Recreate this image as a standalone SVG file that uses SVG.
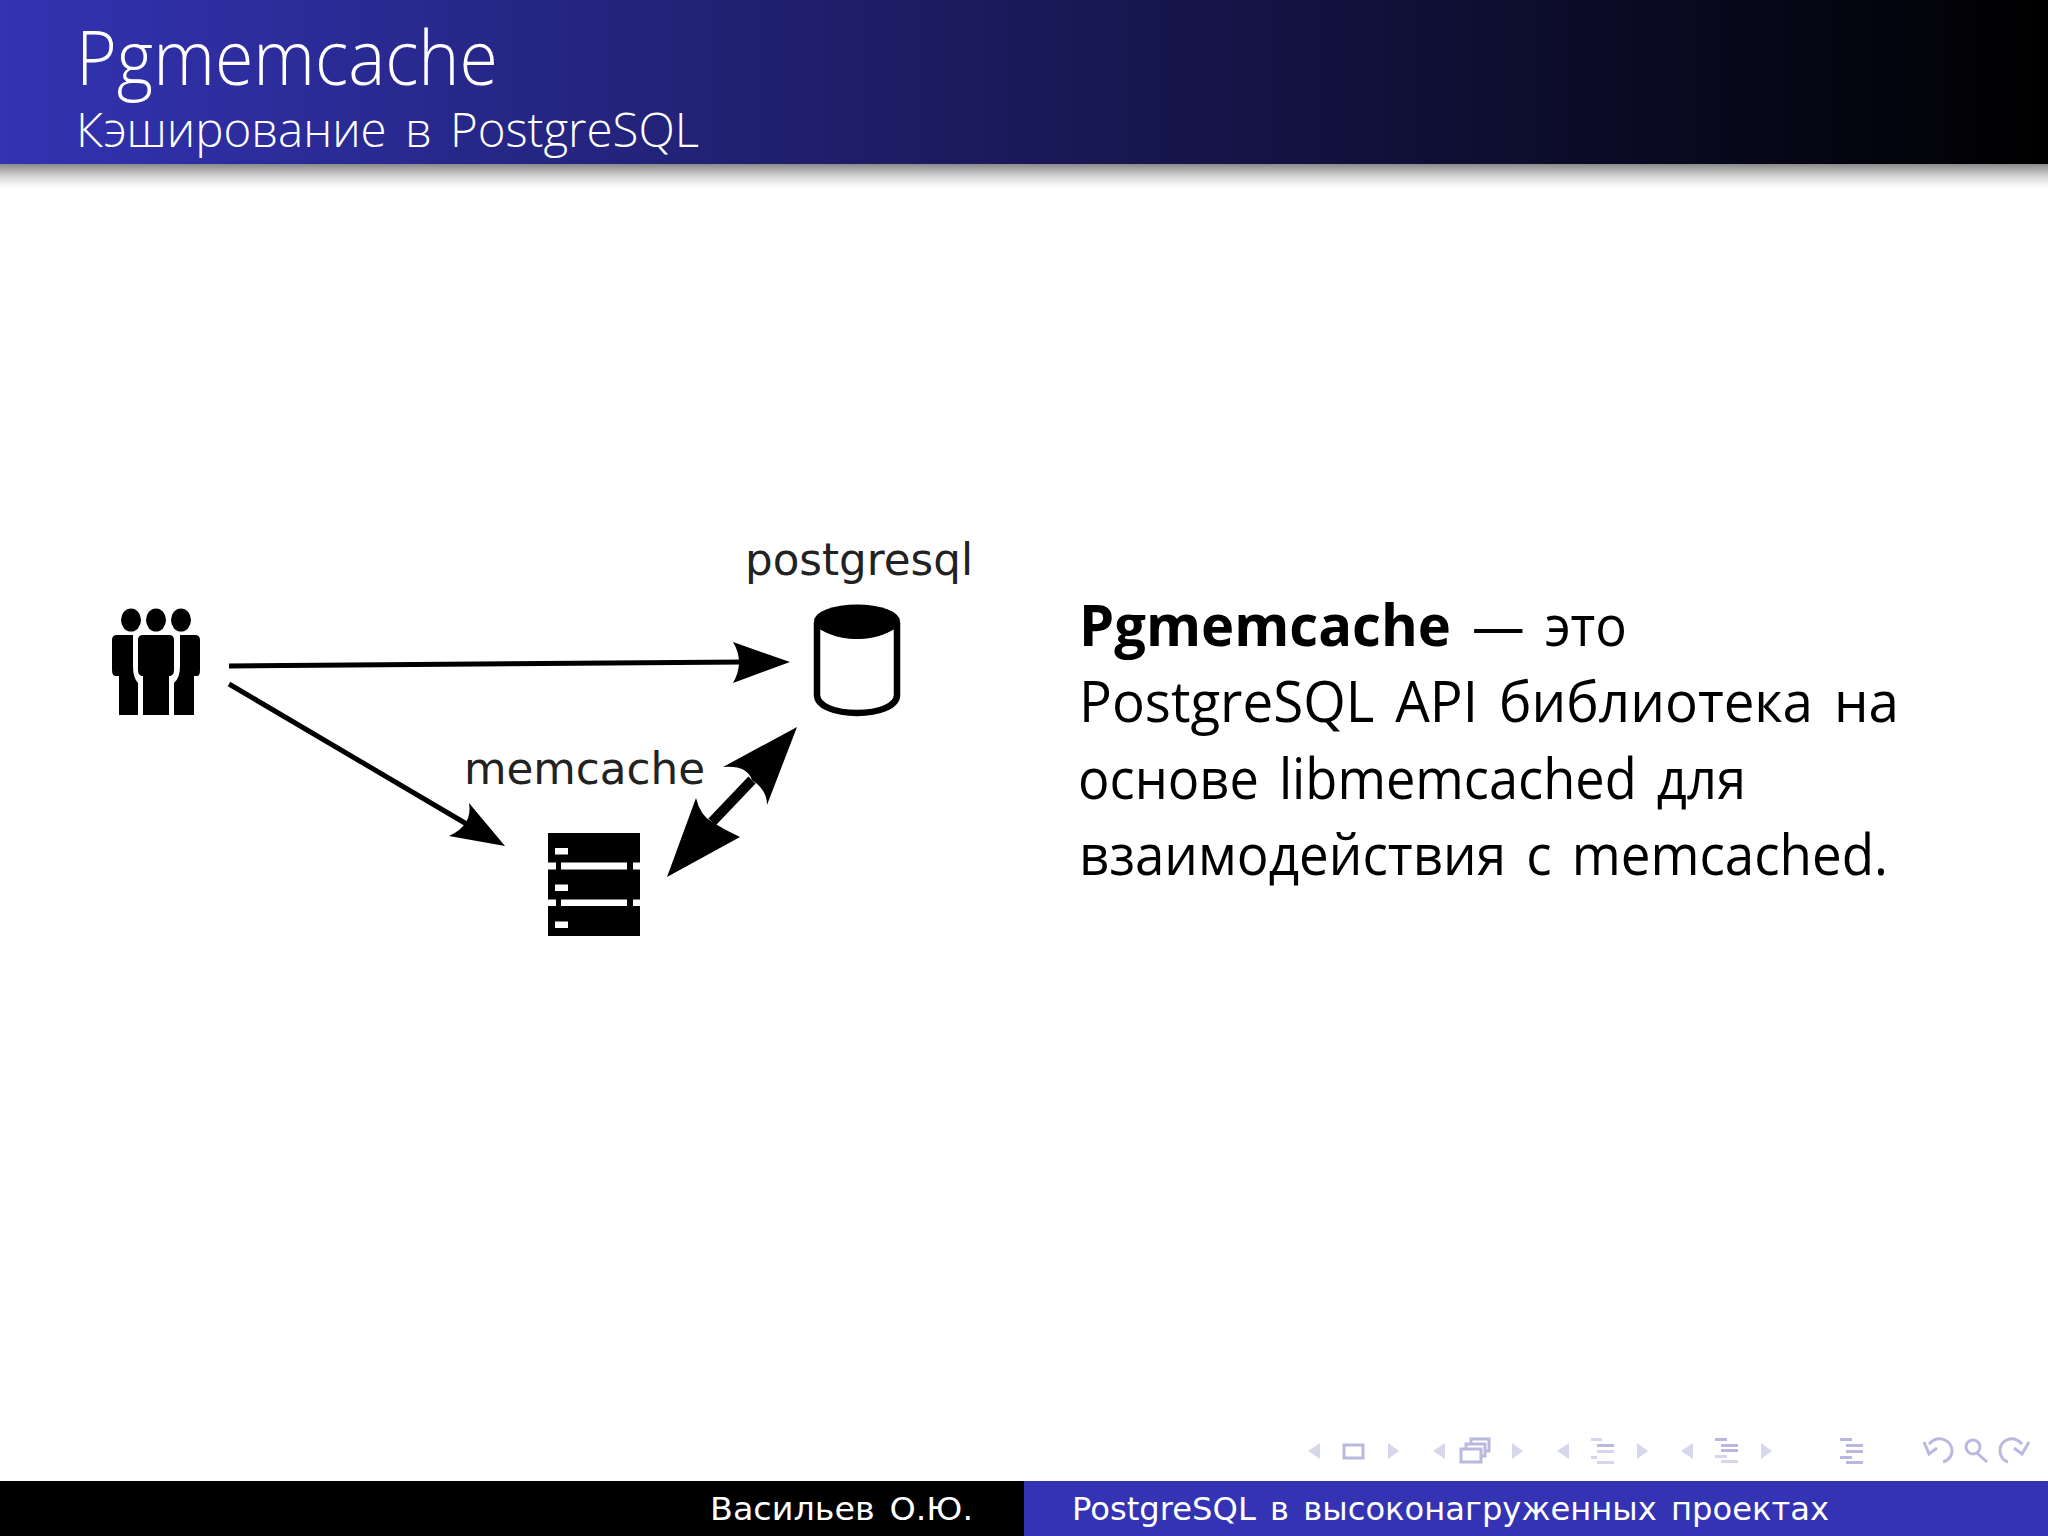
<svg xmlns="http://www.w3.org/2000/svg" width="2048" height="1536" viewBox="0 0 2048 1536">
<style>
.sans{font-family:"Open Sans","Noto Sans","DejaVu Sans",sans-serif}
.lab{font-family:"DejaVu Sans",sans-serif;font-size:45px;fill:#222}
.body{font-size:57px;fill:#000;font-weight:400;word-spacing:7px}
.foot{font-size:32px;fill:#fff;font-family:"DejaVu Sans",sans-serif;word-spacing:4px}
.ln{stroke:#000;fill:none}
.hi{fill:#d6d6ec}.mid{fill:#b9b9e0}
.ol{fill:none;stroke:#b9b9e0;stroke-width:3}
</style>
<defs>
<linearGradient id="hd"><stop offset="0" stop-color="#3333b3"/><stop offset="1" stop-color="#000"/></linearGradient>
<linearGradient id="sh" x2="0" y2="1"><stop offset="0" stop-color="#8a8a8a"/><stop offset=".5" stop-color="#d4d4d4"/><stop offset="1" stop-color="#fff"/></linearGradient>
</defs>
<rect width="2048" height="1536" fill="#fff"/>
<g id="header">
<rect y="164" width="2048" height="24" fill="url(#sh)"/>
<rect width="2048" height="164" fill="url(#hd)"/>
<text class="sans" x="76" y="85" font-size="76" font-weight="300" fill="#fff" textLength="422" lengthAdjust="spacingAndGlyphs">Pgmemcache</text>
<text class="sans" x="76" y="147" font-size="48" font-weight="300" fill="#fff" word-spacing="6" textLength="623" lengthAdjust="spacingAndGlyphs">Кэширование в PostgreSQL</text>
</g>
<g id="users">
<ellipse cx="131" cy="620" rx="10" ry="11.500"/><ellipse cx="156" cy="620" rx="10" ry="11.500"/><ellipse cx="181" cy="620" rx="10" ry="11.500"/>
<path d="M117 635H133V666Q133 678 138 683V715H119V676H116Q112 676 112 670V640Q112 635 117 635Z"/>
<path d="M195 635H180V666Q180 678 174 683V715H194V676H197Q200 676 200 670V640Q200 635 195 635Z"/>
<path d="M143 635H169Q174 635 174 640V670Q174 676 169 676V715H143V676Q138 676 138 670V640Q138 635 143 635Z"/>
</g>
<g id="postgresql">
<text class="lab" x="745" y="575" textLength="228" lengthAdjust="spacingAndGlyphs">postgresql</text>
<path d="M817 622V695C817 706 835 713 857 713C879 713 897 706 897 695V622" fill="#fff" stroke="#000" stroke-width="6.500"/>
<ellipse cx="857" cy="621" rx="43" ry="16.500"/>
<path d="M817 622C820 632 836 639 857 639C878 639 894 632 897 622Z"/>
</g>
<g id="memcache">
<text class="lab" x="464" y="784" textLength="241" lengthAdjust="spacingAndGlyphs">memcache</text>
<path d="M556 860h5v12h-5zM627 860h6v12h-6zM556 897h5v12h-5zM627 897h6v12h-6z"/>
<rect x="548" y="833" width="92" height="29.500"/><rect x="548" y="869.500" width="92" height="30"/><rect x="548" y="906" width="92" height="30"/>
<path fill="#fff" d="M555 848h13v6.500h-13zM555 884.500h13v6.500h-13zM555 921.500h13v6.500h-13z"/>
</g>
<g id="connectors">
<path class="ln" stroke-width="5" d="M229 666L745 662"/>
<path d="M790 662L733 642Q745 662 733 683Z"/>
<path class="ln" stroke-width="5" d="M229 684L470 826"/>
<path d="M505 846L469 803Q473 825 449 836Z"/>
<path class="ln" stroke-width="10" d="M712 822L752 780"/>
<path d="M797 727L723 767Q747 765 752 780Q767 790 767 805Z"/>
<path d="M667 877L696 798Q700 815 712 822Q725 830 740 837Z"/>
</g>
<g id="body">
<text class="sans body" x="1079" y="646" font-weight="700" style="font-weight:700" textLength="372" lengthAdjust="spacingAndGlyphs">Pgmemcache</text>
<text class="sans body" x="1472" y="646" textLength="155" lengthAdjust="spacingAndGlyphs">— это</text>
<text class="sans body" x="1079" y="722" textLength="820" lengthAdjust="spacingAndGlyphs">PostgreSQL API библиотека на</text>
<text class="sans body" x="1078" y="799" textLength="668" lengthAdjust="spacingAndGlyphs">основе libmemcached для</text>
<text class="sans body" x="1079" y="875" textLength="809" lengthAdjust="spacingAndGlyphs">взаимодействия с memcached.</text>
</g>
<g id="footer">
<rect y="1481" width="1024" height="55" fill="#000"/><rect x="1024" y="1481" width="1024" height="55" fill="#3333b3"/>
<text class="foot" x="710" y="1520" textLength="263" lengthAdjust="spacingAndGlyphs">Васильев О.Ю.</text>
<text class="foot" x="1072" y="1520" textLength="757" lengthAdjust="spacingAndGlyphs">PostgreSQL в высоконагруженных проектах</text>
</g>
<g id="nav">
<path class="hi" d="M1320 1443v16l-12-8zM1388 1443v16l11-8zM1445 1443v16l-12-8zM1512 1443v16l11-8zM1569 1443v16l-12-8zM1637 1443v16l11-8zM1693 1443v16l-12-8zM1761 1443v16l11-8z"/>
<rect class="ol" x="1344" y="1445" width="19" height="13"/>
<path class="ol" d="M1461 1449h20v13h-20zM1466 1449v-5h19v12h-4M1471 1444v-5h18v12h-4"/>
<path class="hi" d="M1591 1438h11v3h-11zM1597 1450h17v3h-17zM1591 1456h6v3h-6zM1597 1461h17v3h-17z"/>
<path class="mid" d="M1597 1444h17v3h-17z"/>
<path class="mid" d="M1715 1438h12v3h-12zM1721 1449h17v3h-17zM1721 1444h17v3h-17z"/><path class="hi" d="M1715 1455h12v3h-12zM1721 1460h17v3h-17z"/>
<path class="mid" d="M1840 1438h12v3h-12zM1846 1444h17v3h-17zM1846 1450h17v3h-17zM1840 1456h12v3h-12zM1846 1461h17v3h-17z"/>
<path class="ol" d="M1929 1444C1938 1434 1952 1440 1952 1451C1952 1457 1947 1461 1943 1462M1924 1442L1929 1454L1937 1448"/>
<circle class="ol" cx="1973" cy="1447" r="7"/><path class="ol" stroke-width="4" d="M1977 1453L1987 1462"/>
<path class="ol" d="M2022 1444C2013 1434 2000 1440 2000 1451C2000 1457 2004 1461 2008 1462M2029 1442L2022 1454L2014 1448"/>
</g>
</svg>
